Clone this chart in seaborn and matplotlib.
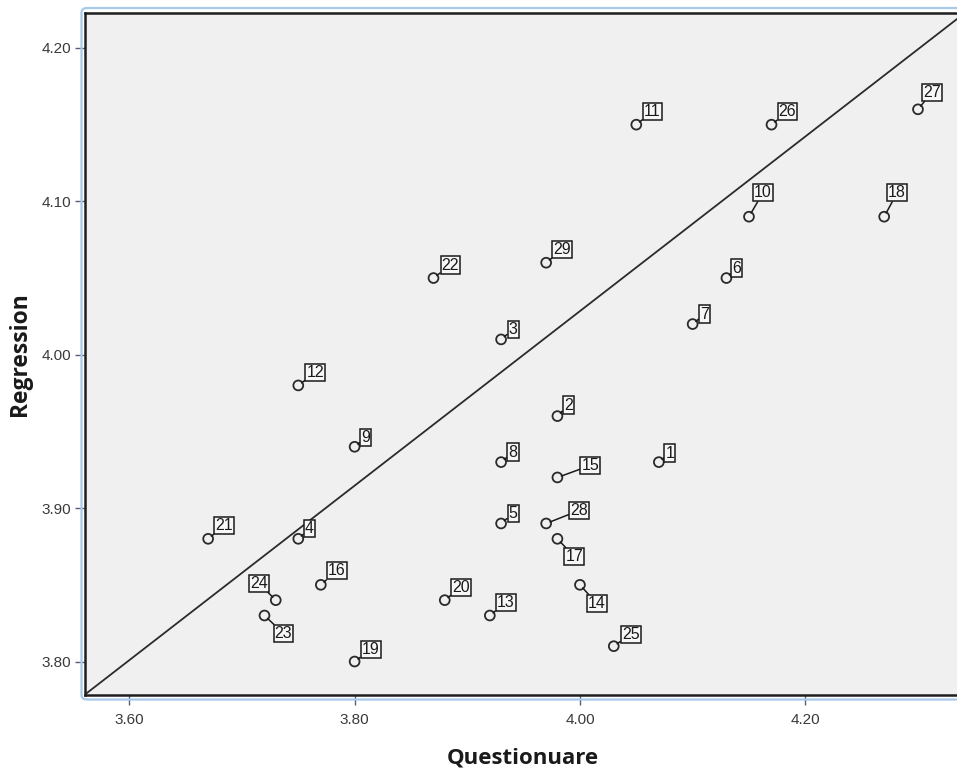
import matplotlib
matplotlib.use("Agg")
import matplotlib.pyplot as plt
from matplotlib import font_manager
from matplotlib.patches import FancyBboxPatch
import numpy as np
import pandas as pd
import seaborn as sns

# Case numbers with their questionnaire score and regression estimate
case_ids = [1, 2, 3, 4, 5, 6, 7, 8, 9, 10,
            11, 12, 13, 14, 15, 16, 17, 18, 19, 20,
            21, 22, 23, 24, 25, 26, 27, 28, 29]
questionnaire = [4.07, 3.98, 3.93, 3.75, 3.93, 4.13, 4.10, 3.93, 3.80, 4.15,
                 4.05, 3.75, 3.92, 4.00, 3.98, 3.77, 3.98, 4.27, 3.80, 3.88,
                 3.67, 3.87, 3.72, 3.73, 4.03, 4.17, 4.30, 3.97, 3.97]
regression = [3.93, 3.96, 4.01, 3.88, 3.89, 4.05, 4.02, 3.93, 3.94, 4.09,
              4.15, 3.98, 3.83, 3.85, 3.92, 3.85, 3.88, 4.09, 3.80, 3.84,
              3.88, 4.05, 3.83, 3.84, 3.81, 4.15, 4.16, 3.89, 4.06]

x_ticks = [3.60, 3.80, 4.00, 4.20]
y_ticks = [3.80, 3.90, 4.00, 4.10, 4.20]

df = pd.DataFrame({"case": case_ids, "Questionuare": questionnaire,
                   "Regression": regression})

# label box placement (pixel offsets from each point)
label_offsets = {
    1: (11, 9), 2: (11, 11), 3: (12, 10), 4: (11, 10), 5: (12, 10),
    6: (10, 10), 7: (12, 10), 8: (12, 10), 9: (11, 9), 10: (14, 24),
    11: (16, 13), 12: (17, 13), 13: (16, 13), 14: (17, -19), 15: (33, 12),
    16: (16, 14), 17: (17, -18), 18: (13, 24), 19: (16, 12), 20: (16, 13),
    21: (16, 13), 22: (17, 13), 23: (19, -18), 24: (-17, 17), 25: (17, 12),
    26: (16, 13), 27: (14, 17), 28: (33, 13), 29: (16, 13),
}

sns.set_theme(style="white")
plt.rcParams["font.family"] = ["Liberation Sans", "DejaVu Sans"]

# narrow face for the case-number boxes, if present
label_family = "Liberation Sans"
try:
    found = font_manager.findfont("Liberation Sans Narrow",
                                  fallback_to_default=False)
    if "Narrow" in found:
        label_family = "Liberation Sans Narrow"
except Exception:
    pass
label_size = 13.5 if label_family.endswith("Narrow") else 11.5

W, H = 957, 772
fig = plt.figure(figsize=(W / 100, H / 100), dpi=100)
fig.patch.set_facecolor("white")

# plot area in pixel terms
left_px, right_px, top_px, bottom_px = 85, 960, 13.3, 694.5
ax = fig.add_axes([left_px / W, 1 - bottom_px / H,
                   (right_px - left_px) / W, (bottom_px - top_px) / H])
ax.set_facecolor("#f0f0f0")

# outer light-blue chart frame
frame = FancyBboxPatch((81.5 / W, 1 - 699.5 / H), (1000 - 81.5) / W,
                       (699.5 - 8) / H, boxstyle="round,pad=0,rounding_size=0.006",
                       transform=fig.transFigure, fc="none", ec="#a9c9ea",
                       lw=1.6, zorder=0)
fig.patches.append(frame)

# diagonal reference line across the plot area
ax.plot([0, 1], [0, 0.995], transform=ax.transAxes, color="#2b2b2b", lw=1.3,
        zorder=2)

sns.scatterplot(data=df, x="Questionuare", y="Regression", ax=ax,
                marker="o", s=50, facecolor="none", edgecolor="#2a2a2a",
                linewidth=1.3, zorder=4)

for cid, xv, yv in zip(case_ids, questionnaire, regression):
    dx, dy = label_offsets[cid]
    ax.annotate(str(cid), xy=(xv, yv), xytext=(dx, dy),
                textcoords="offset pixels", ha="center", va="center",
                fontsize=label_size, family=label_family, color="#1a1a1a",
                zorder=5,
                bbox=dict(boxstyle="square,pad=0.07", fc="#f7f7f7",
                          ec="#1a1a1a", lw=1.1),
                arrowprops=dict(arrowstyle="-", color="#1a1a1a", lw=1.1,
                                shrinkA=0, shrinkB=3))

ax.set_xlim(3.5607, 4.3373)
ax.set_ylim(3.7785, 4.2226)
ax.set_xticks(x_ticks)
ax.set_yticks(y_ticks)
ax.set_xticklabels([f"{v:.2f}" for v in x_ticks])
ax.set_yticklabels([f"{v:.2f}" for v in y_ticks])
ax.tick_params(axis="both", direction="out", length=7, width=1.0,
               color="#55607a", labelsize=11, labelcolor="#3a3a3a", pad=3)
ax.tick_params(axis="x", bottom=True, pad=6)
ax.tick_params(axis="y", left=True)

for side in ["left", "bottom", "top", "right"]:
    ax.spines[side].set_color("#1e1e1e")
    ax.spines[side].set_linewidth(1.8)

ax.set_xlabel("Questionuare", fontsize=16, fontweight="bold",
              family=["Open Sans", "DejaVu Sans"], color="#1a1a1a", labelpad=15)
ax.set_ylabel("Regression", fontsize=16.5, fontweight="bold",
              family=["Open Sans", "DejaVu Sans"], color="#1a1a1a", labelpad=7)

fig.savefig("out.png", dpi=100)
